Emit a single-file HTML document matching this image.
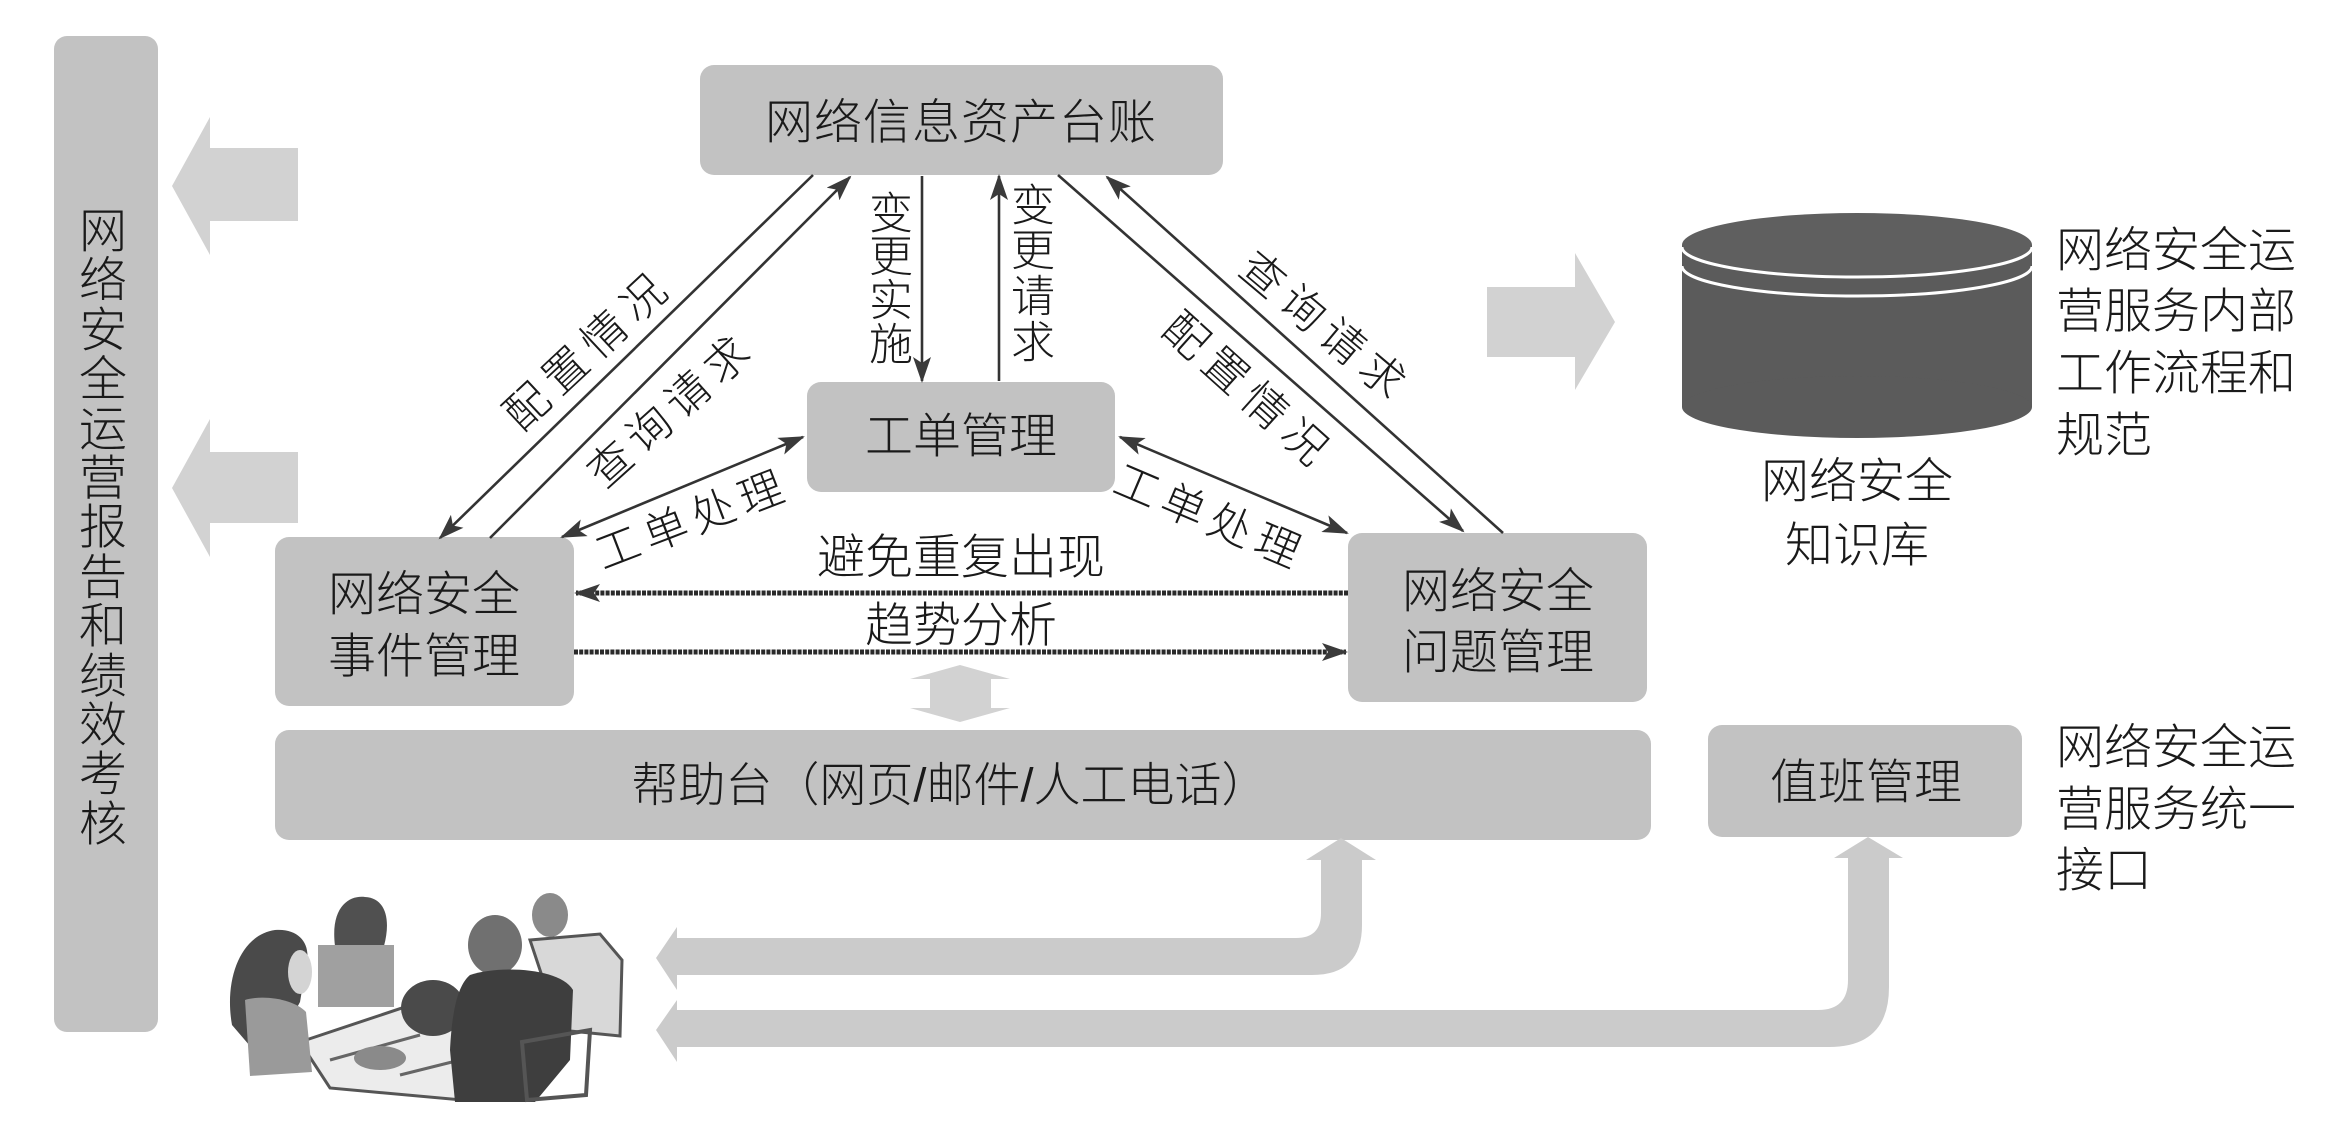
<!DOCTYPE html>
<html>
<head>
<meta charset="utf-8">
<style>
html,body{margin:0;padding:0;background:#fff;}
svg{display:block;}
text{font-family:"Liberation Sans","Noto Sans CJK SC",sans-serif;fill:#1a1a1a;font-weight:300;}
</style>
</head>
<body>
<svg width="2349" height="1131" viewBox="0 0 2349 1131" xmlns="http://www.w3.org/2000/svg">
<defs>
  <marker id="ah" markerUnits="userSpaceOnUse" markerWidth="26" markerHeight="18" viewBox="0 0 26 18" refX="24" refY="9" orient="auto-start-reverse">
    <path d="M0,0 L26,9 L0,18 L6,9 Z" fill="#3a3a3a"/>
  </marker>
</defs>

<!-- Left vertical bar -->
<rect x="54" y="36" width="104" height="996" rx="13" fill="#c2c2c2"/>
<g font-size="48" text-anchor="middle" dominant-baseline="central">
  <text x="103" y="232">网</text>
  <text x="103" y="281">络</text>
  <text x="103" y="331">安</text>
  <text x="103" y="380">全</text>
  <text x="103" y="430">运</text>
  <text x="103" y="479">营</text>
  <text x="103" y="528">报</text>
  <text x="103" y="578">告</text>
  <text x="103" y="627">和</text>
  <text x="103" y="677">绩</text>
  <text x="103" y="726">效</text>
  <text x="103" y="775">考</text>
  <text x="103" y="825">核</text>
</g>

<!-- Left block arrows -->
<polygon points="298,148 210,148 210,117 172,186 210,255 210,221 298,221" fill="#d2d2d2"/>
<polygon points="298,452 210,452 210,419 172,488 210,557 210,523 298,523" fill="#d2d2d2"/>

<!-- Top box -->
<rect x="700" y="65" width="523" height="110" rx="14" fill="#c2c2c2"/>
<text x="961" y="123" font-size="48" text-anchor="middle" dominant-baseline="central" letter-spacing="1">网络信息资产台账</text>

<!-- 工单管理 -->
<rect x="807" y="382" width="308" height="110" rx="14" fill="#c2c2c2"/>
<text x="961" y="437" font-size="48" text-anchor="middle" dominant-baseline="central">工单管理</text>

<!-- 事件管理 -->
<rect x="275" y="537" width="299" height="169" rx="14" fill="#c2c2c2"/>
<text x="424" y="595" font-size="48" text-anchor="middle" dominant-baseline="central">网络安全</text>
<text x="424" y="657" font-size="48" text-anchor="middle" dominant-baseline="central">事件管理</text>

<!-- 问题管理 -->
<rect x="1348" y="533" width="299" height="169" rx="14" fill="#c2c2c2"/>
<text x="1498" y="592" font-size="48" text-anchor="middle" dominant-baseline="central">网络安全</text>
<text x="1498" y="653" font-size="48" text-anchor="middle" dominant-baseline="central">问题管理</text>

<!-- 帮助台 -->
<rect x="275" y="730" width="1376" height="110" rx="14" fill="#c2c2c2"/>
<text x="950" y="785" font-size="47" text-anchor="middle" dominant-baseline="central">帮助台（网页/邮件/人工电话）</text>

<!-- 值班管理 -->
<rect x="1708" y="725" width="314" height="112" rx="14" fill="#c2c2c2"/>
<text x="1866" y="783" font-size="48" text-anchor="middle" dominant-baseline="central">值班管理</text>

<!-- Vertical double arrow -->
<polygon points="960,665 1010,679 991,679 991,708 1010,708 960,722 910,708 930,708 930,679 910,679" fill="#d2d2d2"/>

<!-- Connectors -->
<g stroke="#333" stroke-width="2.6" fill="none">
  <line x1="813" y1="175" x2="440" y2="538" marker-end="url(#ah)"/>
  <line x1="490" y1="538" x2="850" y2="177" marker-end="url(#ah)"/>
  <line x1="922" y1="176" x2="922" y2="381" marker-end="url(#ah)"/>
  <line x1="999" y1="381" x2="999" y2="176" marker-end="url(#ah)"/>
  <line x1="1058" y1="175" x2="1463" y2="531" marker-end="url(#ah)"/>
  <line x1="1503" y1="533" x2="1107" y2="177" marker-end="url(#ah)"/>
  <line x1="562" y1="537" x2="803" y2="437" marker-start="url(#ah)" marker-end="url(#ah)"/>
  <line x1="1120" y1="437" x2="1347" y2="533" marker-start="url(#ah)" marker-end="url(#ah)"/>
</g>
<g stroke="#2a2a2a" stroke-width="5" fill="none" stroke-dasharray="4 1.2">
  <line x1="1348" y1="593" x2="576" y2="593" marker-end="url(#ah)"/>
  <line x1="574" y1="652" x2="1346" y2="652" marker-end="url(#ah)"/>
</g>

<!-- Connector labels -->
<g font-size="44" text-anchor="middle" dominant-baseline="central">
  <text x="589" y="350" letter-spacing="9" transform="rotate(-43 589 350)">配置情况</text>
  <text x="672" y="410" letter-spacing="8" transform="rotate(-42 672 410)">查询请求</text>
  <text x="1248" y="392" letter-spacing="9" transform="rotate(42 1248 392)">配置情况</text>
  <text x="1325" y="328" letter-spacing="8" transform="rotate(40 1325 328)">查询请求</text>
  <text x="693" y="520" letter-spacing="7" transform="rotate(-21 693 520)">工单处理</text>
  <text x="1210" y="518" letter-spacing="7" transform="rotate(23 1210 518)">工单处理</text>
  <text x="891" y="214">变</text>
  <text x="891" y="257">更</text>
  <text x="891" y="301">实</text>
  <text x="891" y="345">施</text>
  <text x="1033" y="206">变</text>
  <text x="1033" y="251">更</text>
  <text x="1033" y="297">请</text>
  <text x="1033" y="343">求</text>
</g>
<text x="961" y="558" font-size="48" text-anchor="middle" dominant-baseline="central">避免重复出现</text>
<text x="961" y="626" font-size="48" text-anchor="middle" dominant-baseline="central">趋势分析</text>

<!-- DB arrow -->
<polygon points="1487,287 1575,287 1575,253 1615,322 1575,390 1575,357 1487,357" fill="#d2d2d2"/>

<!-- Cylinder -->
<rect x="1682" y="245" width="350" height="162" fill="#5b5b5b"/>
<ellipse cx="1857" cy="407" rx="175" ry="31" fill="#5b5b5b"/>
<ellipse cx="1857" cy="245" rx="175" ry="32" fill="#5f5f5f"/>
<path d="M1682,247 A175,30 0 0 0 2032,247" fill="none" stroke="#fff" stroke-width="3"/>
<path d="M1682,266 A175,30 0 0 0 2032,266" fill="none" stroke="#fff" stroke-width="3"/>
<text x="1857" y="482" font-size="48" text-anchor="middle" dominant-baseline="central">网络安全</text>
<text x="1857" y="546" font-size="48" text-anchor="middle" dominant-baseline="central">知识库</text>

<!-- Right texts -->
<g font-size="48" dominant-baseline="central">
  <text x="2056" y="251">网络安全运</text>
  <text x="2056" y="312">营服务内部</text>
  <text x="2056" y="374">工作流程和</text>
  <text x="2056" y="436">规范</text>
  <text x="2056" y="748">网络安全运</text>
  <text x="2056" y="810">营服务统一</text>
  <text x="2056" y="871">接口</text>
</g>

<!-- Bottom arrows -->
<path d="M656,958 L677,927 L677,938 L1296,938 Q1321,938 1321,913 L1321,860 L1306,860 L1341,838 L1376,860 L1362,860 L1362,925 Q1362,975 1312,975 L677,975 L677,990 Z" fill="#cbcbcb"/>
<path d="M656,1030 L677,1000 L677,1010 L1818,1010 Q1848,1010 1848,980 L1848,858 L1834,858 L1868,837 L1903,858 L1889,858 L1889,987 Q1889,1047 1829,1047 L677,1047 L677,1062 Z" fill="#cbcbcb"/>

<!-- People illustration (simplified) -->
<g>
  <polygon points="300,1042 420,1002 548,1040 462,1100 330,1088" fill="#ececec" stroke="#555" stroke-width="3"/>
  <line x1="330" y1="1060" x2="420" y2="1035" stroke="#666" stroke-width="3"/>
  <line x1="400" y1="1075" x2="480" y2="1055" stroke="#666" stroke-width="3"/>
  <path d="M232,1025 C224,980 240,935 275,930 C300,928 312,945 306,966 L300,1002 C290,1022 270,1040 250,1046 Z" fill="#4a4a4a"/>
  <ellipse cx="300" cy="972" rx="12" ry="22" fill="#d4d4d4"/>
  <path d="M245,1000 C265,994 295,1000 306,1012 L312,1072 L250,1076 Z" fill="#9a9a9a"/>
  <path d="M335,946 C330,906 350,895 365,897 C386,898 391,920 384,946 Z" fill="#505050"/>
  <rect x="318" y="945" width="76" height="62" fill="#a0a0a0"/>
  <ellipse cx="380" cy="1058" rx="26" ry="12" fill="#8a8a8a"/>
  <ellipse cx="433" cy="1008" rx="32" ry="28" fill="#4a4a4a"/>
  <ellipse cx="550" cy="915" rx="18" ry="22" fill="#8a8a8a"/>
  <path d="M530,940 L600,934 L622,960 L620,1036 L560,1030 Z" fill="#d8d8d8" stroke="#555" stroke-width="3"/>
  <ellipse cx="495" cy="945" rx="27" ry="30" fill="#707070"/>
  <path d="M470,975 C500,965 560,968 573,990 L570,1060 L535,1102 L455,1102 L450,1050 C452,1010 458,985 470,975 Z" fill="#3e3e3e"/>
  <path d="M522,1042 L590,1030 L586,1095 L527,1100 Z" fill="none" stroke="#555" stroke-width="4"/>
</g>
</svg>
</body>
</html>
